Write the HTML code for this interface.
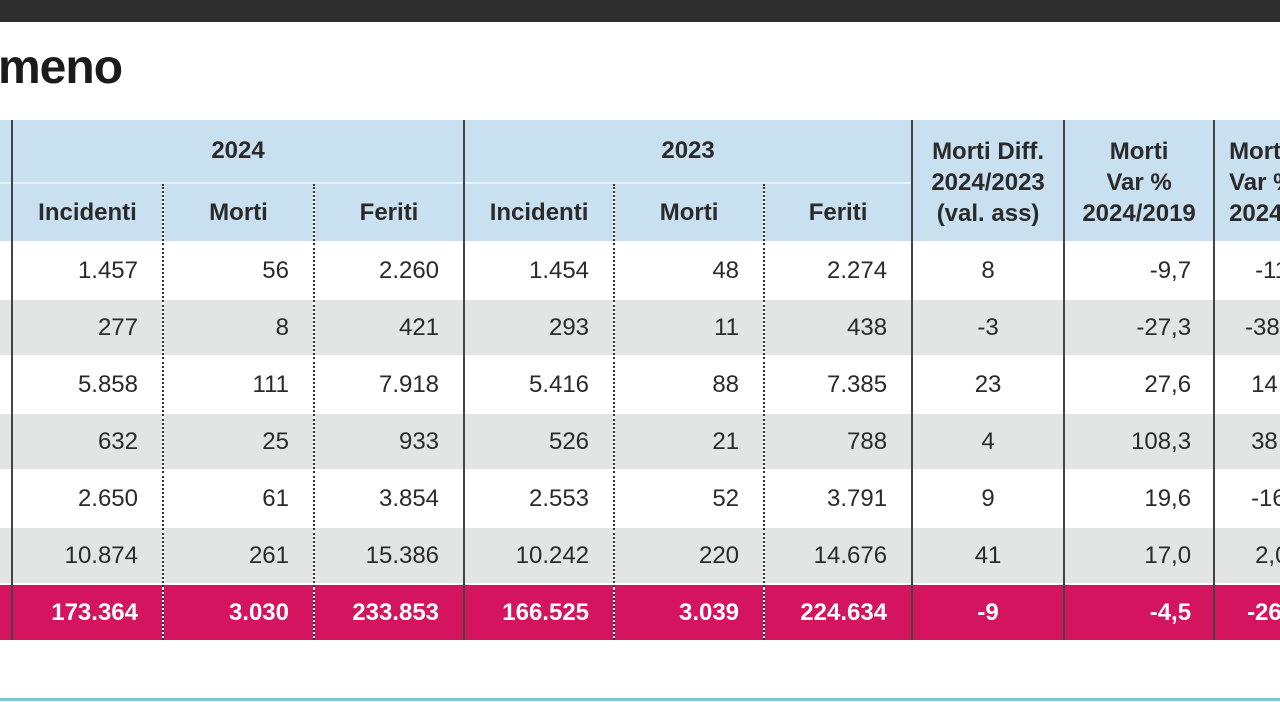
<!DOCTYPE html>
<html><head><meta charset="utf-8"><style>
html,body{margin:0;padding:0;width:1280px;height:702px;overflow:hidden;background:#fff;font-family:"Liberation Sans",sans-serif;color:#2a2a2a;position:relative}
.top{position:absolute;left:0;top:0;width:1280px;height:22px;background:#2e2e2e}
.title{position:absolute;left:-2px;top:40px;font-size:48px;font-weight:bold;color:#1b1b1b;letter-spacing:-1px}
table{position:absolute;left:0;top:120px;border-collapse:collapse;table-layout:fixed;width:1360px}
td{padding:0;font-size:24px;white-space:nowrap;overflow:hidden}
.h1 td{height:62px;background:#c9e0f1;font-weight:bold;text-align:center;padding-top:0}
.h2 td{height:57px;background:#c9e0f1;font-weight:bold;text-align:center;border-top:2px solid #e6f0f8}
.hm{line-height:31px;font-size:24px;padding-top:4px!important}
.r td{height:55px;text-align:right;padding-right:24px;border-top:2px solid #fff}
.g td{background:#e3e5e5}
.r td.c{text-align:center;padding-right:0}
.r td.v{padding-right:22px}
.p td{background:#d4145e;color:#fff;font-weight:bold}
.s{border-left:2px solid #444}
.d{border-left:2px dotted #333}
td.e{padding-right:0!important}
.teal{position:absolute;left:0;top:698px;width:1280px;height:3px;background:#7fc6cf}
</style></head><body>
<div class="top"></div>
<div class="title">meno</div>
<table>
<colgroup><col style="width:12px"><col style="width:151px"><col style="width:151px"><col style="width:150px"><col style="width:150px"><col style="width:150px"><col style="width:148px"><col style="width:152px"><col style="width:150px"><col style="width:146px"></colgroup>
<tr class="h1"><td></td><td class="s" colspan="3">2024</td><td class="s" colspan="3">2023</td><td class="s hm" rowspan="2">Morti Diff.<br>2024/2023<br>(val. ass)</td><td class="s hm" rowspan="2">Morti<br>Var %<br>2024/2019</td><td class="s hm" rowspan="2" style="text-align:left;padding-left:14px">Morti<br>Var %<br>2024/2010</td></tr>
<tr class="h2"><td></td><td class="s">Incidenti</td><td class="d">Morti</td><td class="d">Feriti</td><td class="s">Incidenti</td><td class="d">Morti</td><td class="d">Feriti</td></tr>
<tr class="r"><td class="e"></td><td class="s">1.457</td><td class="d">56</td><td class="d">2.260</td><td class="s">1.454</td><td class="d">48</td><td class="d">2.274</td><td class="s c">8</td><td class="s v">-9,7</td><td class="s" style="text-align:left;padding-left:40px">-11,0</td></tr>
<tr class="r g"><td class="e"></td><td class="s">277</td><td class="d">8</td><td class="d">421</td><td class="s">293</td><td class="d">11</td><td class="d">438</td><td class="s c">-3</td><td class="s v">-27,3</td><td class="s" style="text-align:left;padding-left:30px">-38,5</td></tr>
<tr class="r"><td class="e"></td><td class="s">5.858</td><td class="d">111</td><td class="d">7.918</td><td class="s">5.416</td><td class="d">88</td><td class="d">7.385</td><td class="s c">23</td><td class="s v">27,6</td><td class="s" style="text-align:left;padding-left:36px">14,4</td></tr>
<tr class="r g"><td class="e"></td><td class="s">632</td><td class="d">25</td><td class="d">933</td><td class="s">526</td><td class="d">21</td><td class="d">788</td><td class="s c">4</td><td class="s v">108,3</td><td class="s" style="text-align:left;padding-left:36px">38,9</td></tr>
<tr class="r"><td class="e"></td><td class="s">2.650</td><td class="d">61</td><td class="d">3.854</td><td class="s">2.553</td><td class="d">52</td><td class="d">3.791</td><td class="s c">9</td><td class="s v">19,6</td><td class="s" style="text-align:left;padding-left:36px">-16,4</td></tr>
<tr class="r g"><td class="e"></td><td class="s">10.874</td><td class="d">261</td><td class="d">15.386</td><td class="s">10.242</td><td class="d">220</td><td class="d">14.676</td><td class="s c">41</td><td class="s v">17,0</td><td class="s" style="text-align:left;padding-left:40px">2,0</td></tr>
<tr class="r p"><td class="e"></td><td class="s">173.364</td><td class="d">3.030</td><td class="d">233.853</td><td class="s">166.525</td><td class="d">3.039</td><td class="d">224.634</td><td class="s c">-9</td><td class="s v">-4,5</td><td class="s" style="text-align:left;padding-left:32px">-26,3</td></tr>
</table>
<div class="teal"></div>
</body></html>
